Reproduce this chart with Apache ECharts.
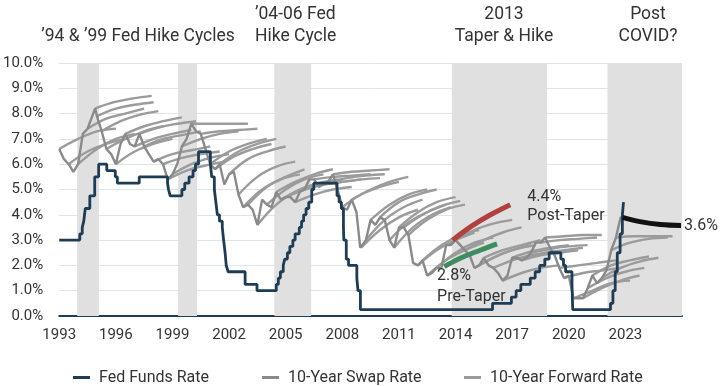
<!DOCTYPE html>
<html><head><meta charset="utf-8">
<script src="https://cdn.jsdelivr.net/npm/echarts@6/dist/echarts.min.js"></script>
<style>html,body{margin:0;padding:0;background:#fff}#c{width:723px;height:386px}</style>
</head><body><div id="c"></div>
<script>
const FONT = "Roboto,'Noto Sans',sans-serif";
const TXT = '#333333';

// Shaded hike-cycle periods (start year, end year)
const bands = [[1993.95, 1995.1], [1999.3, 2000.3], [2004.4, 2006.35], [2013.8, 2018.85], [2022.05, 2026]];

// Fed funds rate: change dates (decimal years) and level after change
const fedDates = [1993.0, 1994.09, 1994.22, 1994.3, 1994.38, 1994.62, 1994.88, 1995.09, 1995.52, 1995.97, 1996.08,
  1997.24, 1998.74, 1998.79, 1998.88, 1999.5, 1999.65, 1999.88, 2000.09, 2000.22, 2000.38,
  2001.01, 2001.08, 2001.22, 2001.3, 2001.38, 2001.49, 2001.64, 2001.71, 2001.79, 2001.85, 2001.95,
  2002.85, 2003.48, 2004.5, 2004.61, 2004.72, 2004.87, 2004.95, 2005.09, 2005.22, 2005.38, 2005.5,
  2005.72, 2005.84, 2005.95, 2006.08, 2006.22, 2006.38, 2006.49, 2007.72, 2007.83, 2007.95,
  2008.06, 2008.08, 2008.21, 2008.33, 2008.77, 2008.83, 2008.96, 2015.96, 2016.96, 2017.21,
  2017.46, 2017.96, 2018.22, 2018.46, 2018.73, 2018.96, 2019.58, 2019.72, 2019.83, 2020.17,
  2020.21, 2022.21, 2022.34, 2022.46, 2022.57, 2022.72, 2022.84, 2022.9];
const fedRates = [3.0, 3.25, 3.5, 3.75, 4.25, 4.75, 5.5, 6.0, 5.75, 5.5, 5.25,
  5.5, 5.25, 5.0, 4.75, 5.0, 5.25, 5.5, 5.75, 6.0, 6.5,
  6.0, 5.5, 5.0, 4.5, 4.0, 3.75, 3.5, 3.0, 2.5, 2.0, 1.75,
  1.25, 1.0, 1.25, 1.5, 1.75, 2.0, 2.25, 2.5, 2.75, 3.0, 3.25,
  3.5, 3.75, 4.0, 4.25, 4.5, 5.0, 5.25, 4.75, 4.5, 4.25,
  3.5, 3.0, 2.25, 2.0, 1.5, 1.0, 0.25, 0.5, 0.75, 1.0,
  1.25, 1.5, 1.75, 2.0, 2.25, 2.5, 2.25, 2.0, 1.75, 1.25,
  0.25, 0.5, 1.0, 1.75, 2.5, 3.25, 4.0, 4.5];

// 10-year swap rate
const swapDates = [1993.0, 1993.25, 1993.5, 1993.75, 1994.0, 1994.25, 1994.5, 1994.75, 1994.9, 1995.0, 1995.25, 1995.5, 1995.75,
  1996.0, 1996.25, 1996.5, 1996.75, 1997.0, 1997.25, 1997.5, 1997.75, 1998.0, 1998.25, 1998.5, 1998.75,
  1999.0, 1999.25, 1999.5, 1999.75, 2000.0, 2000.25, 2000.5, 2000.75, 2001.0, 2001.25, 2001.5, 2001.75,
  2002.0, 2002.25, 2002.5, 2002.75, 2003.0, 2003.25, 2003.5, 2003.75, 2004.0, 2004.25, 2004.5, 2004.75,
  2005.0, 2005.25, 2005.5, 2005.75, 2006.0, 2006.25, 2006.5, 2006.75, 2007.0, 2007.25, 2007.5, 2007.75,
  2008.0, 2008.25, 2008.5, 2008.75, 2008.95, 2009.25, 2009.5, 2009.75, 2010.0, 2010.25, 2010.5, 2010.75,
  2011.0, 2011.25, 2011.5, 2011.75, 2012.0, 2012.25, 2012.5, 2012.75, 2013.0, 2013.25, 2013.5, 2013.75,
  2014.0, 2014.25, 2014.5, 2014.75, 2015.0, 2015.25, 2015.5, 2015.75, 2016.0, 2016.25, 2016.5, 2016.75,
  2017.0, 2017.25, 2017.5, 2017.75, 2018.0, 2018.25, 2018.5, 2018.75, 2019.0, 2019.25, 2019.5, 2019.75,
  2020.0, 2020.25, 2020.5, 2020.75, 2021.0, 2021.25, 2021.5, 2021.75, 2022.0, 2022.25, 2022.5, 2022.75, 2022.85];
const swapRates = [6.6, 6.2, 6.0, 5.7, 6.0, 7.2, 7.4, 7.9, 8.2, 7.9, 7.3, 6.6, 6.4,
  6.0, 6.8, 7.2, 6.8, 6.7, 7.2, 6.7, 6.4, 6.1, 6.2, 6.0, 5.4,
  5.6, 6.0, 6.7, 7.0, 7.6, 7.3, 7.2, 6.6, 6.0, 5.8, 6.0, 5.2,
  5.6, 5.7, 4.8, 4.3, 4.4, 4.2, 3.6, 4.6, 4.4, 4.3, 4.9, 4.6,
  4.7, 4.7, 4.5, 4.9, 5.0, 5.4, 5.4, 5.1, 5.2, 5.3, 5.6, 5.0,
  4.3, 4.2, 4.6, 4.1, 2.7, 3.0, 3.8, 3.6, 3.9, 3.8, 3.0, 2.7,
  3.5, 3.5, 3.2, 2.1, 2.0, 2.2, 1.6, 1.7, 1.9, 1.9, 2.8, 2.8,
  3.0, 2.8, 2.6, 2.4, 1.9, 2.0, 2.3, 2.0, 1.9, 1.7, 1.4, 1.6,
  2.3, 2.3, 2.2, 2.3, 2.5, 2.9, 2.9, 3.1, 2.7, 2.4, 1.9, 1.5,
  1.6, 0.7, 0.7, 0.7, 1.1, 1.6, 1.3, 1.5, 1.8, 2.6, 3.1, 3.9, 3.9];

// 10-year forward rate curves: start date and rates at 0,1,2,3 years forward
const fwdTenors = [0, 1, 2, 3];
const fwdStarts = [1993.0, 1993.5, 1994.0, 1994.5, 1994.9, 1995.0, 1995.25, 1995.5, 1996.0, 1996.5, 1997.0, 1997.25, 1997.5,
  1998.0, 1998.5, 1998.75, 1999.0, 1999.5, 2000.0, 2000.5, 2001.0, 2001.25, 2001.5, 2002.0, 2002.5, 2002.75,
  2003.0, 2003.5, 2004.0, 2004.5, 2004.75, 2005.0, 2005.5, 2006.0, 2006.5, 2007.0, 2007.25, 2007.5, 2008.0, 2008.5,
  2009.0, 2009.25, 2009.5, 2010.0, 2010.5, 2010.75, 2011.0, 2011.25, 2011.5, 2012.0, 2012.25, 2012.5, 2013.0,
  2014.0, 2014.5, 2015.0, 2015.25, 2015.5, 2016.0, 2016.5, 2017.0, 2017.5, 2017.75, 2018.0, 2018.5, 2018.75,
  2019.5, 2019.75, 2020.25, 2020.75, 2021.0, 2021.25, 2021.75, 2022.25, 2022.5];
const fwdCurves = [
  [6.6, 7.0, 7.3, 7.4], [6.0, 6.5, 6.8, 7.0], [6.0, 6.6, 7.0, 7.2], [7.4, 7.8, 8.0, 8.2], [8.2, 8.45, 8.6, 8.7],
  [7.9, 8.2, 8.35, 8.45], [7.3, 7.7, 7.95, 8.1], [6.6, 7.0, 7.3, 7.5], [6.0, 6.5, 6.8, 7.0], [7.2, 7.5, 7.7, 7.85],
  [6.7, 7.0, 7.2, 7.35], [7.2, 7.45, 7.6, 7.7], [6.7, 7.0, 7.15, 7.3],
  [6.1, 6.4, 6.55, 6.7], [6.0, 6.25, 6.4, 6.5], [5.4, 5.75, 5.95, 6.1], [5.6, 6.0, 6.25, 6.4],
  [6.7, 7.0, 7.2, 7.3], [7.6, 7.6, 7.6, 7.6], [7.2, 7.3, 7.35, 7.4], [6.0, 6.5, 6.8, 7.0], [5.8, 6.3, 6.6, 6.8],
  [6.0, 6.5, 6.8, 7.0], [5.6, 6.2, 6.5, 6.7], [4.8, 5.5, 5.9, 6.1], [4.3, 5.0, 5.4, 5.6],
  [4.4, 5.1, 5.5, 5.8], [3.6, 4.4, 4.9, 5.2], [4.4, 5.0, 5.4, 5.6], [4.9, 5.3, 5.6, 5.8], [4.6, 5.0, 5.25, 5.4],
  [4.7, 5.0, 5.2, 5.35], [4.5, 4.8, 5.0, 5.1], [5.0, 5.2, 5.3, 5.4], [5.4, 5.5, 5.55, 5.6], [5.2, 5.3, 5.4, 5.45],
  [5.3, 5.45, 5.55, 5.6], [5.6, 5.7, 5.75, 5.8], [4.3, 4.8, 5.1, 5.3], [4.6, 5.0, 5.3, 5.5],
  [2.7, 3.4, 3.9, 4.2], [3.0, 3.8, 4.3, 4.6], [3.8, 4.4, 4.8, 5.0], [3.9, 4.5, 4.8, 5.0], [3.0, 3.7, 4.1, 4.4],
  [2.7, 3.5, 4.0, 4.3], [3.5, 4.1, 4.5, 4.7], [3.5, 4.0, 4.35, 4.55], [3.2, 3.8, 4.2, 4.4], [2.0, 2.6, 3.0, 3.3],
  [2.2, 2.8, 3.2, 3.4], [1.6, 2.2, 2.6, 2.9], [1.9, 2.5, 2.9, 3.1],
  [3.0, 3.4, 3.65, 3.8], [2.6, 3.0, 3.3, 3.5], [1.9, 2.3, 2.6, 2.8], [2.0, 2.4, 2.65, 2.8], [2.3, 2.6, 2.8, 3.0],
  [1.9, 2.2, 2.4, 2.5], [1.4, 1.7, 1.9, 2.0], [2.3, 2.55, 2.7, 2.8], [2.2, 2.4, 2.5, 2.6], [2.3, 2.5, 2.6, 2.7],
  [2.5, 2.65, 2.75, 2.8], [2.9, 3.0, 3.05, 3.1], [3.1, 3.15, 3.2, 3.2],
  [1.9, 2.0, 2.1, 2.2], [1.5, 1.7, 1.8, 1.9], [0.7, 1.0, 1.3, 1.4], [0.7, 1.1, 1.4, 1.6], [1.1, 1.5, 1.75, 1.9],
  [1.6, 2.0, 2.2, 2.35], [1.5, 1.9, 2.15, 2.3], [2.6, 2.9, 3.05, 3.1], [3.1, 3.15, 3.15, 3.15]];

// Highlighted forward curves
const preTaperX = [2013.4, 2014.3, 2015.3, 2016.2];
const preTaperY = [1.95, 2.3, 2.6, 2.85];
const postTaperX = [2013.85, 2014.85, 2015.85, 2016.9];
const postTaperY = [3.0, 3.55, 4.0, 4.4];
const postCovidX = [2022.85, 2023.85, 2024.85, 2025.95];
const postCovidY = [3.9, 3.72, 3.62, 3.58];

const zip = (xs, ys) => xs.map((x, i) => [x, ys[i]]);

const series = [];
fwdStarts.forEach((s, i) => {
  series.push({
    name: '10-Year Forward Rate', type: 'line', showSymbol: false, symbol: 'none', smooth: 0.4,
    data: fwdTenors.map((t, j) => [s + t, fwdCurves[i][j]]),
    lineStyle: { color: '#9b9b9b', width: 2.4 }, itemStyle: { color: '#9b9b9b' }, z: 2, silent: true
  });
});
series.push({
  name: '10-Year Swap Rate', type: 'line', showSymbol: false, symbol: 'none',
  data: zip(swapDates, swapRates),
  lineStyle: { color: '#8a8a8a', width: 2.4 }, itemStyle: { color: '#8a8a8a' }, z: 3
});
series.push({
  name: 'Pre-Taper', type: 'line', showSymbol: false, symbol: 'none', smooth: 0.4,
  data: zip(preTaperX, preTaperY),
  lineStyle: { color: '#3f8c5f', width: 5 }, itemStyle: { color: '#3f8c5f' }, z: 5,
  endLabel: { show: true, formatter: '2.8%\nPre-Taper', distance: 0, offset: [-60, 43], align: 'left',
    verticalAlign: 'middle', fontFamily: FONT, fontSize: 16, lineHeight: 21, color: TXT }
});
series.push({
  name: 'Post-Taper', type: 'line', showSymbol: false, symbol: 'none', smooth: 0.4,
  data: zip(postTaperX, postTaperY),
  lineStyle: { color: '#b0413e', width: 5 }, itemStyle: { color: '#b0413e' }, z: 5,
  endLabel: { show: true, formatter: '4.4%\nPost-Taper', distance: 17, offset: [0, 2], align: 'left',
    verticalAlign: 'middle', fontFamily: FONT, fontSize: 16, lineHeight: 19, color: TXT }
});
series.push({
  name: 'Post COVID', type: 'line', showSymbol: false, symbol: 'none', smooth: 0.4,
  data: zip(postCovidX, postCovidY),
  lineStyle: { color: '#111111', width: 5 }, itemStyle: { color: '#111111' }, z: 5,
  endLabel: { show: true, formatter: '3.6%', distance: 3, offset: [0, 1], fontFamily: FONT, fontSize: 16, color: TXT }
});
series.push({
  name: 'Fed Funds Rate', type: 'line', showSymbol: false, symbol: 'none', step: 'end',
  data: zip(fedDates, fedRates),
  lineStyle: { color: '#1d3c55', width: 2.8 }, itemStyle: { color: '#1d3c55' }, z: 4,
  markArea: { silent: true, itemStyle: { color: '#e0e0e0' }, data: bands.map(b => [{ xAxis: b[0] }, { xAxis: b[1] }]) }
});

const legendBase = {
  top: 363, icon: 'rect', itemWidth: 17, itemHeight: 3, itemGap: 8,
  textStyle: { fontFamily: FONT, fontSize: 16, color: TXT, lineHeight: 19, padding: [0, 0, 0, 4] }
};

const chart = echarts.init(document.getElementById('c'), null, { renderer: 'canvas' });
chart.setOption({
  animation: false,
  backgroundColor: '#ffffff',
  grid: { left: 56, right: 41, top: 63, bottom: 70 },
  xAxis: {
    type: 'value', min: 1993, max: 2026, interval: 3,
    axisLine: { show: true, onZero: false, lineStyle: { color: '#1d3c55', width: 2 } },
    axisTick: { show: false }, splitLine: { show: false },
    axisLabel: { showMaxLabel: false, margin: 12, fontFamily: FONT, fontSize: 15, color: TXT, formatter: v => String(v) }
  },
  yAxis: {
    type: 'value', min: 0, max: 10, interval: 1,
    axisLine: { show: false }, axisTick: { show: false },
    splitLine: { lineStyle: { color: '#dae5ee', width: 1 } },
    axisLabel: { margin: 16, fontFamily: FONT, fontSize: 15, color: TXT, formatter: v => v.toFixed(1) + '%' }
  },
  legend: [
    Object.assign({}, legendBase, { left: 68, data: ['Fed Funds Rate'] }),
    Object.assign({}, legendBase, { left: 257, data: ['10-Year Swap Rate'] }),
    Object.assign({}, legendBase, { left: 459, data: ['10-Year Forward Rate'] })
  ],
  graphic: [
    { type: 'text', x: 138, y: 37, style: { text: '’94 & ’99 Fed Hike Cycles', textAlign: 'center', textVerticalAlign: 'middle', font: '17.5px ' + FONT, fill: TXT } },
    { type: 'text', x: 255, y: 26, style: { text: '’04-06 Fed\nHike Cycle', textAlign: 'left', textVerticalAlign: 'middle', font: '17.5px ' + FONT, lineHeight: 22, fill: TXT } },
    { type: 'text', x: 504, y: 26, style: { text: '2013\nTaper & Hike', textAlign: 'center', textVerticalAlign: 'middle', font: '17.5px ' + FONT, lineHeight: 22, fill: TXT } },
    { type: 'text', x: 648, y: 26, style: { text: 'Post\nCOVID?', textAlign: 'center', textVerticalAlign: 'middle', font: '17.5px ' + FONT, lineHeight: 22, fill: TXT } }
  ],
  series: series
});
</script>
</body></html>
